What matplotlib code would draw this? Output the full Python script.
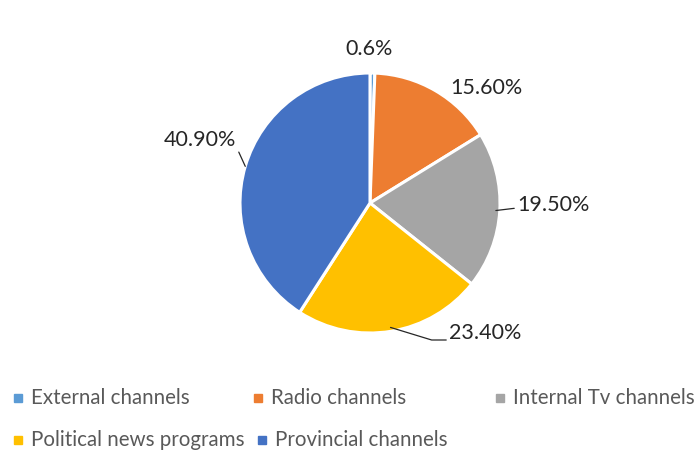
import numpy as np
import matplotlib.pyplot as plt

# channel shares
categories = ['External channels', 'Radio channels', 'Internal Tv channels',
              'Political news programs', 'Provincial channels']
values = [0.6, 15.6, 19.5, 23.4, 40.9]
labels = ['0.6%', '15.60%', '19.50%', '23.40%', '40.90%']
colors = ['#5B9BD5', '#ED7D31', '#A5A5A5', '#FFC000', '#4472C4']

plt.rcParams['font.family'] = ['Lato', 'DejaVu Sans']

W, H = 699, 451
fig = plt.figure(figsize=(W / 100, H / 100), dpi=100)

# pie centre (370, 203) px, radius 130 px
cx, cy, r = 370, 203, 130
ax = fig.add_axes([(cx - r) / W, (H - cy - r) / H, 2 * r / W, 2 * r / H])
wedges, _ = ax.pie(values, colors=colors, startangle=90, counterclock=False,
                   wedgeprops=dict(edgecolor='white', linewidth=2.2))
ax.set_xlim(-1, 1)
ax.set_ylim(-1, 1)
ax.set_aspect('equal')
ax.axis('off')


def px(x, y):
    return ((x - cx) / r, (cy - y) / r)


# label text anchor (pixels), alignment, leader line settings
label_pos = [(369, 49, 'center', None),
             (486, 88, 'center', None),
             (517, 205, 'left', dict(rad=0.97, relpos=(0, 0.35))),
             (449, 333, 'left', dict(rad=0.97, relpos=(0, 0.15),
                                     conn='angle,angleA=0,angleB=-17')),
             (236, 140, 'right', dict(rad=1.0, relpos=(1, 0.2)))]

for w, lab, (x, y, ha, lead) in zip(wedges, labels, label_pos):
    if lead is None:
        ax.annotate(lab, xy=px(x, y), ha=ha, va='center', fontsize=15.5,
                    color='#262626', annotation_clip=False)
        continue
    mid = np.deg2rad((w.theta1 + w.theta2) / 2)
    tip = (lead['rad'] * np.cos(mid), lead['rad'] * np.sin(mid))
    ax.annotate(lab, xy=tip, xytext=px(x, y), ha=ha, va='center',
                fontsize=15.5, color='#262626', annotation_clip=False,
                arrowprops=dict(arrowstyle='-', color='#262626', lw=0.9,
                                shrinkA=0, shrinkB=0, relpos=lead['relpos'],
                                connectionstyle=lead.get('conn', 'arc3')))

# legend, laid out in rows like the original
leg_pos = [(18, 398), (258, 398), (500, 398), (18, 440), (262, 440)]
for name, col, (x, y) in zip(categories, colors, leg_pos):
    fig.patches.append(plt.Rectangle(((x - 4) / W, (H - y - 4) / H), 8 / W, 8 / H,
                                     transform=fig.transFigure, color=col))
    fig.text((x + 13) / W, (H - y) / H, name, ha='left', va='center',
             fontsize=14.8, color='#595959')

fig.savefig('out.png', dpi=100)
